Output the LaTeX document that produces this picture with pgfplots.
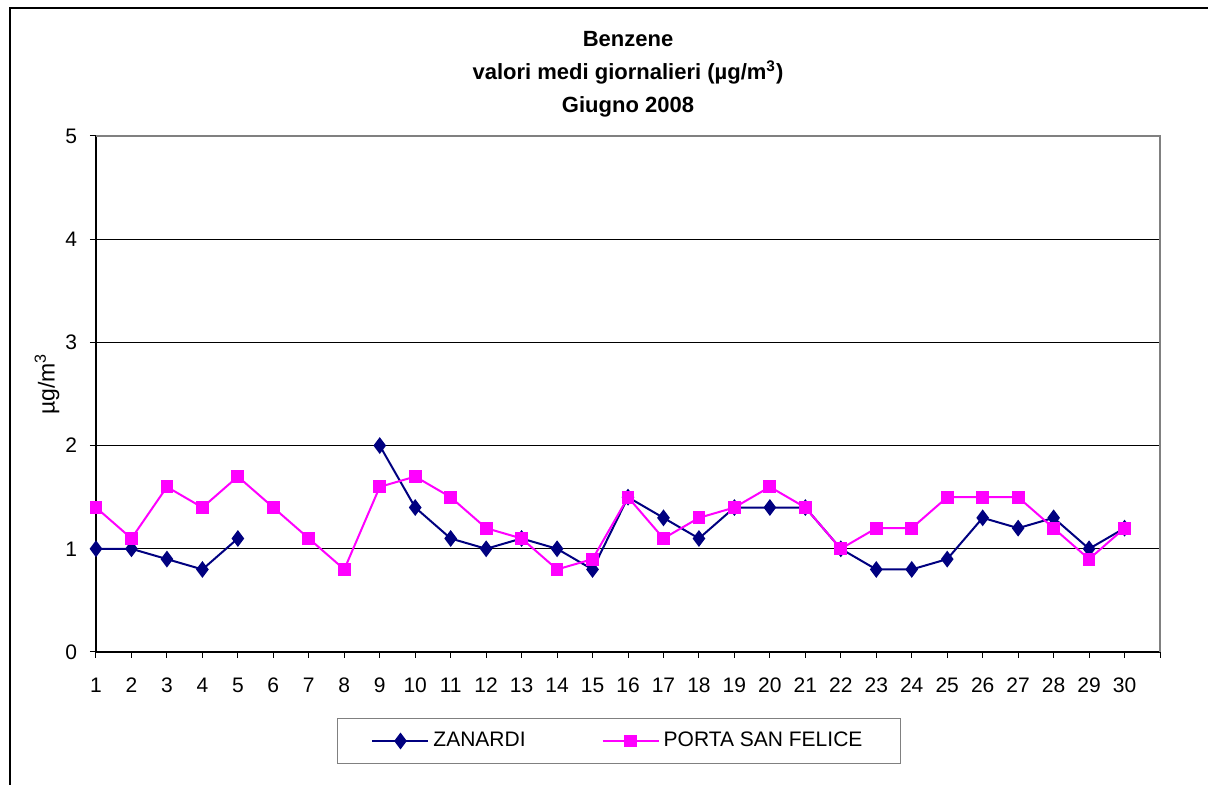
\documentclass[border=0pt]{standalone}
\usepackage{pgfplots}
\pgfplotsset{compat=1.18}
\usepackage{fontspec}
\setmainfont{Liberation Sans}

\definecolor{zanardi}{RGB}{0,0,128}
\definecolor{psf}{RGB}{255,0,255}
\definecolor{frame}{RGB}{128,128,128}

\pgfplotstableread{
day zan psf
1  1.0 1.4
2  1.0 1.1
3  0.9 1.6
4  0.8 1.4
5  1.1 1.7
6  nan 1.4
7  nan 1.1
8  nan 0.8
9  2.0 1.6
10 1.4 1.7
11 1.1 1.5
12 1.0 1.2
13 1.1 1.1
14 1.0 0.8
15 0.8 0.9
16 1.5 1.5
17 1.3 1.1
18 1.1 1.3
19 1.4 1.4
20 1.4 1.6
21 1.4 1.4
22 1.0 1.0
23 0.8 1.2
24 0.8 1.2
25 0.9 1.5
26 1.3 1.5
27 1.2 1.5
28 1.3 1.2
29 1.0 0.9
30 1.2 1.2
}\benzene

\begin{document}
\begin{tikzpicture}
\path[use as bounding box] (-48pt,-66.5pt) rectangle (556pt,326pt);
% outer chart frame (only top and left edges are visible)
\draw[line width=1pt] (-43pt,-80pt) -- (-43pt,322pt) -- (570pt,322pt);
\begin{axis}[
    at={(0pt,0pt)}, anchor=south west,
    scale only axis, width=532pt, height=258pt,
    xmin=1, xmax=31, ymin=0, ymax=5,
    clip=false,
    unbounded coords=jump,
    axis x line*=bottom, axis y line*=left,
    axis line style={black, line width=0.6pt, -},
    xtick={1,...,31},
    xticklabels={1,2,3,4,5,6,7,8,9,10,11,12,13,14,15,16,17,18,19,20,21,22,23,24,25,26,27,28,29,30,{}},
    ytick={0,1,2,3,4,5},
    tick align=outside, major tick length=3pt,
    tick style={black, line width=0.5pt},
    ymajorgrids, major grid style={black, line width=0.5pt},
    /pgf/number format/assume math mode=true,
    ticklabel style={font=\fontsize{10.5}{12}\selectfont},
    xticklabel style={yshift=-6.5pt},
    yticklabel style={xshift=-3pt},
    title={Benzene\\valori medi giornalieri (µg/m\textsuperscript{3})\\Giugno 2008},
    title style={font=\bfseries\fontsize{11}{16.5}\selectfont, align=center,
        anchor=north, at={(axis description cs:0.5,1)}, yshift=46.5pt, inner sep=0pt},
    ylabel={µg/m\textsuperscript{3}},
    every axis y label/.style={at={(axis description cs:-0.046,0.519)},
        rotate=90, anchor=center, font=\fontsize{11.5}{13}\selectfont},
    legend columns=2,
    legend style={at={(axis description cs:0.4915,-0.1725)}, anchor=center,
        draw=frame, line width=0.6pt, inner xsep=17pt, inner ysep=5pt,
        font=\fontsize{10.5}{12}\selectfont,
        nodes={inner xsep=2pt, inner ysep=2pt, line width=0.6pt},
        /tikz/every odd column/.append style={column sep=0pt},
        /tikz/every even column/.append style={column sep=36pt}},
    legend image code/.code={%
        \draw[mark repeat=2, mark phase=2] plot coordinates {(0pt,0pt) (14pt,0pt) (28pt,0pt)};},
]
\addplot[zanardi, line width=1pt, mark=diamond*, mark size=3.4pt,
    mark options={solid, fill=zanardi}] table[x=day, y=zan] {\benzene};
\addlegendentry{ZANARDI}
\addplot[psf, line width=1pt, mark=square*, mark size=2.7pt,
    mark options={solid, fill=psf}] table[x=day, y=psf] {\benzene};
\addlegendentry{PORTA SAN FELICE}
\draw[frame, line width=0.75pt] (rel axis cs:0,1) -- (rel axis cs:1,1) -- (rel axis cs:1,0);
\end{axis}
\end{tikzpicture}
\end{document}
